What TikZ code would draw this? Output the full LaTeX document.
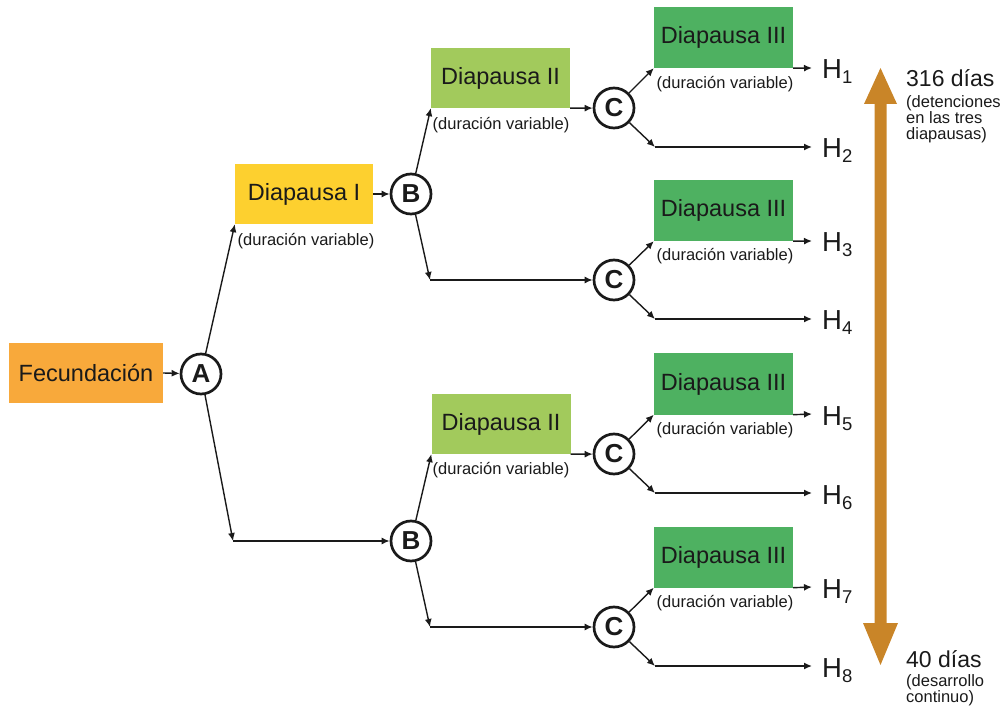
\documentclass[tikz,border=0pt]{standalone}
\usepackage{fontspec}
\setmainfont{Liberation Sans}
\usetikzlibrary{arrows.meta}
\definecolor{cFec}{HTML}{F8A93B}
\definecolor{cD1}{HTML}{FDD02F}
\definecolor{cD2}{HTML}{A2CA5C}
\definecolor{cD3}{HTML}{4EB161}
\definecolor{cBig}{HTML}{C98528}
\definecolor{cTxt}{HTML}{1A1A1A}
\newcommand{\Hlab}[1]{H\raisebox{-5pt}{\fontsize{18.5}{18.5}\selectfont #1}}
\tikzset{
  box/.style={inner sep=0pt, minimum height=60pt, minimum width=139pt, text=cTxt, font=\fontsize{23.5}{26}\selectfont},
  circ/.style={circle, draw=cTxt, line width=2.7pt, minimum size=40pt, inner sep=0pt, fill=white, text=cTxt, font=\fontsize{26}{26}\selectfont\bfseries},
  dur/.style={text=cTxt, font=\fontsize{16.5}{18}\selectfont, inner sep=0pt},
  hl/.style={anchor=base west, text=cTxt, font=\fontsize{27.5}{27.5}\selectfont, inner sep=0pt},
  conn/.style={draw=cTxt, line width=1.4pt, -{Latex[length=8pt,width=7pt]}},
  side/.style={text=cTxt, inner sep=0pt, align=left}
}
\begin{document}
\begin{tikzpicture}[x=1pt,y=-1pt]
\useasboundingbox (0,0) rectangle (1001,708);
% boxes
\node[box, fill=cFec, minimum width=154pt] (fec) at (86,373) {Fecundación};
\node[box, fill=cD1, minimum width=138pt] (d1) at (304,194) {Diapausa I};
\node[box, fill=cD2] (d2a) at (500.5,78) {Diapausa II};
\node[box, fill=cD2] (d2b) at (501,424) {Diapausa II};
\node[box, fill=cD3, minimum height=61pt] (d3a) at (723.5,37.5) {Diapausa III};
\node[box, fill=cD3, minimum height=61pt] (d3b) at (723.5,210.5) {Diapausa III};
\node[box, fill=cD3, minimum height=61pt] (d3c) at (723.5,384) {Diapausa III};
\node[box, fill=cD3, minimum height=61pt] (d3d) at (723.5,557) {Diapausa III};
% duration labels
\node[dur] (t1) at (306,241) {(duración variable)};
\node[dur] (t2a) at (501,125) {(duración variable)};
\node[dur] (t2b) at (501,470) {(duración variable)};
\node[dur] (t3a) at (725,84) {(duración variable)};
\node[dur] (t3b) at (725,256) {(duración variable)};
\node[dur] (t3c) at (725,430) {(duración variable)};
\node[dur] (t3d) at (725,603) {(duración variable)};
% circles
\node[circ] (A) at (201,374) {A};
\node[circ] (B1) at (411,194) {B};
\node[circ] (B2) at (411,541) {B};
\node[circ] (C1) at (614,108) {C};
\node[circ] (C2) at (614,280) {C};
\node[circ] (C3) at (614,454) {C};
\node[circ] (C4) at (614,627) {C};
% corner coordinates
\coordinate (a2) at (233,541);
\coordinate (b1l) at (430,280);
\coordinate (b2l) at (430,627);
\coordinate (c1l) at (655,147);
\coordinate (c2l) at (655,319);
\coordinate (c3l) at (655,493);
\coordinate (c4l) at (655,666);
\coordinate (e1) at (812,68);
\coordinate (e2) at (812,147);
\coordinate (e3) at (812,241);
\coordinate (e4) at (812,319);
\coordinate (e5) at (812,414);
\coordinate (e6) at (812,493);
\coordinate (e7) at (812,587);
\coordinate (e8) at (812,666);
% H labels
\node[hl] (H1) at (822,79) {\Hlab{1}};
\node[hl] (H2) at (822,158) {\Hlab{2}};
\node[hl] (H3) at (822,252) {\Hlab{3}};
\node[hl] (H4) at (822,330) {\Hlab{4}};
\node[hl] (H5) at (822,425) {\Hlab{5}};
\node[hl] (H6) at (822,504) {\Hlab{6}};
\node[hl] (H7) at (822,598) {\Hlab{7}};
\node[hl] (H8) at (822,677) {\Hlab{8}};
% connectors
\draw[conn] (fec.east) -- (A);
\draw[conn] (A) -- (d1.south west);
\draw[conn] (A) -- (a2);
\draw[conn] (a2) -- (B2);
\draw[conn] (d1.east) -- (B1);
\draw[conn] (B1) -- (d2a.south west);
\draw[conn] (B1) -- (b1l);
\draw[conn] (b1l) -- (C2);
\draw[conn] (B2) -- (d2b.south west);
\draw[conn] (B2) -- (b2l);
\draw[conn] (b2l) -- (C4);
\draw[conn] (d2a.south east) -- (C1);
\draw[conn] (d2b.south east) -- (C3);
\draw[conn] (C1) -- (d3a.south west);
\draw[conn] (C1) -- (c1l);
\draw[conn] (c1l) -- (e2);
\draw[conn] (C2) -- (d3b.south west);
\draw[conn] (C2) -- (c2l);
\draw[conn] (c2l) -- (e4);
\draw[conn] (C3) -- (d3c.south west);
\draw[conn] (C3) -- (c3l);
\draw[conn] (c3l) -- (e6);
\draw[conn] (C4) -- (d3d.south west);
\draw[conn] (C4) -- (c4l);
\draw[conn] (c4l) -- (e8);
\draw[conn] (d3a.south east) -- (e1);
\draw[conn] (d3b.south east) -- (e3);
\draw[conn] (d3c.south east) -- (e5);
\draw[conn] (d3d.south east) -- (e7);
% big double arrow
\fill[cBig] (880.5,68) -- (897,104) -- (886.5,104) -- (886.5,623) -- (898,623)
  -- (880.5,665) -- (863,623) -- (874.5,623) -- (874.5,104) -- (864,104) -- cycle;
% side texts
\node[side, anchor=base west, font=\fontsize{23}{23}\selectfont] (top) at (906,87) {316 días};
\node[side, anchor=north west, font=\fontsize{16.5}{16}\selectfont] (topsub) at (906,95) {(detenciones\\en las tres\\diapausas)};
\node[side, anchor=base west, font=\fontsize{23}{23}\selectfont] (bot) at (906,667) {40 días};
\node[side, anchor=north west, font=\fontsize{16.5}{16}\selectfont] (botsub) at (906,674) {(desarrollo\\continuo)};
\end{tikzpicture}
\end{document}
